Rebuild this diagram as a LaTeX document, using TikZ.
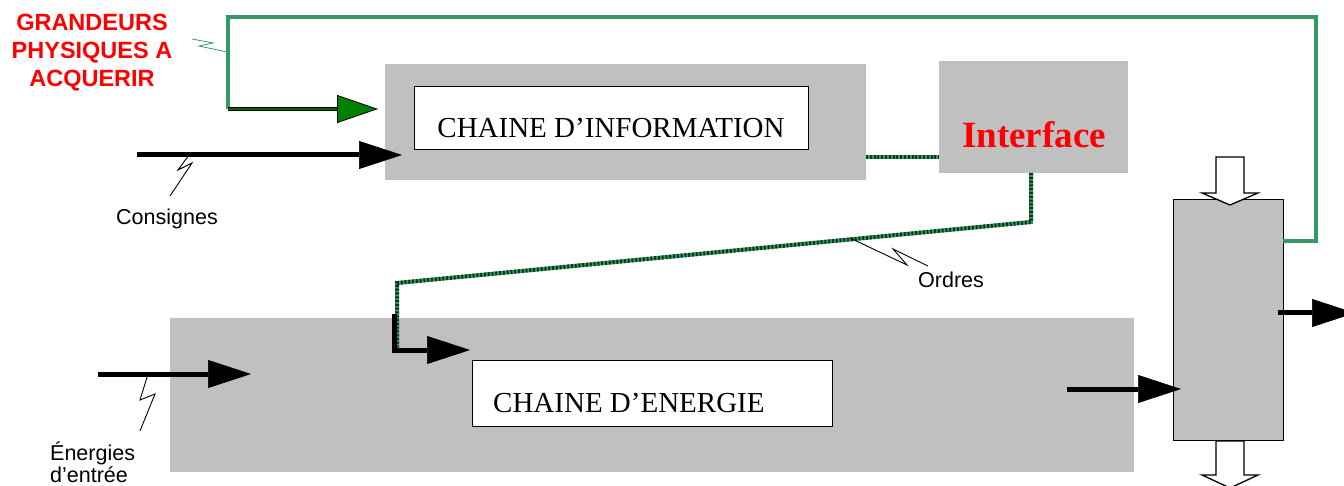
\documentclass[tikz,border=0pt]{standalone}
\usepackage{fontspec}
\setmainfont{Liberation Serif}
\newfontfamily\arialfont{Liberation Sans}
\usetikzlibrary{arrows.meta}
\definecolor{boxgray}{HTML}{C0C0C0}
\definecolor{wiregreen}{HTML}{339966}
\definecolor{arrowgreen}{HTML}{008000}
\definecolor{shaftgreen}{HTML}{006600}
\definecolor{dotdark}{HTML}{0A3A1A}
\begin{document}
\begin{tikzpicture}[x=1pt,y=-1pt,
  gbox/.style={fill=boxgray, draw=none, inner sep=0, anchor=north west},
  wbox/.style={fill=white, draw=black, line width=1.3pt, inner sep=0, anchor=north west},
  flow/.style={line width=5pt, -{Triangle[length=43pt,width=28pt,line width=0.5pt]}},
  bolt/.style={line width=0.9pt, line join=miter},
  ordre/.style={line width=4pt, draw=wiregreen,
    postaction={draw=dotdark, line width=4pt, dash pattern=on 2pt off 1.8pt}},
  feedback/.style={line width=3.2pt, draw=wiregreen},
  sans/.style={font=\arialfont\fontsize{21.5}{24}\selectfont, inner sep=0},
  redsans/.style={font=\arialfont\bfseries\fontsize{23.5}{28}\selectfont, text=red, inner sep=0, anchor=base},
  chain/.style={font=\fontsize{29}{34}\selectfont, inner sep=0},
  hollow/.style={fill=white, draw=black, line width=1.3pt}
]
\useasboundingbox (0,0) rectangle (1344,486);

% ---- blocks ----
\node[gbox, minimum width=481pt, minimum height=116pt] (info) at (385,64) {};
\node[wbox, minimum width=394pt, minimum height=63pt] (infobox) at (414,86) {};
\node[chain, anchor=base] (infotxt) at (611,138) {CHAINE D’INFORMATION};

\node[gbox, minimum width=189pt, minimum height=112pt] (iface) at (939,61) {};
\node[font=\bfseries\fontsize{37}{40}\selectfont, text=red, inner sep=0, anchor=base] (ifacetxt) at (1034,148) {Interface};

\node[gbox, minimum width=964pt, minimum height=154pt] (energy) at (170,318) {};
\node[wbox, minimum width=360pt, minimum height=66pt] (enbox) at (472,360) {};
\node[chain, anchor=base west] (entxt) at (493,412) {CHAINE D’ENERGIE};

\node[gbox, draw=black, line width=1.3pt, minimum width=110pt, minimum height=241pt] (act) at (1173,199) {};

% ---- labels ----
\node[redsans] (g1) at (92,31) {GRANDEURS};
\node[redsans] (g2) at (92,59) {PHYSIQUES A};
\node[redsans] (g3) at (92,87) {ACQUERIR};
\node[sans, anchor=base west] (cons) at (116,225) {Consignes};
\node[sans, anchor=base west] (ord) at (918,288) {Ordres};
\node[sans, anchor=base west] (en1) at (50,460) {Énergies};
\node[sans, anchor=base west] (en2) at (50,482) {d’entrée};

% ---- connection points ----
\coordinate (consA) at (137,155);  \coordinate (consB) at (402,155);
\coordinate (enA) at (98,374);     \coordinate (enB) at (251,374);
\coordinate (actA) at (1067,389);  \coordinate (actB) at (1181,389);
\coordinate (outA) at (1278,313);  \coordinate (outB) at (1355,313);
\coordinate (ordA) at (394,314);   \coordinate (ordC) at (394,350);  \coordinate (ordB) at (470,350);
\coordinate (infoR) at (866,157);  \coordinate (ifaceL) at (939,157);
\coordinate (ifaceB) at (1031,173); \coordinate (bendA) at (1031,222);
\coordinate (bendB) at (397,283);  \coordinate (dotEnd) at (397,352);
\coordinate (fbA) at (1283,241);   \coordinate (fbB) at (1316,241);
\coordinate (fbC) at (1316,17);    \coordinate (fbD) at (228,17);
\coordinate (fbE) at (228,109);    \coordinate (fbF) at (337,109);   \coordinate (fbG) at (378,109);

% ---- information links (Ordres) ----
\draw[ordre] (infoR) -- (ifaceL);
\draw[ordre] (ifaceB) -- (bendA) -- (bendB) -- (dotEnd);

% ---- energy / signal flows ----
\draw[flow] (consA) -- (consB);
\draw[flow] (enA) -- (enB);
\draw[flow] (actA) -- (actB);
\draw[flow] (outA) -- (outB);
\draw[flow, line join=miter] (ordA) -- (ordC) -- (ordB);

% ---- feedback of the physical quantities ----
\draw[feedback, line join=miter] (fbA) -- (fbB) -- (fbC) -- (fbD) -- (fbE);
\draw[line width=4.6pt, black] (fbE) -- (fbF);
\draw[line width=2.2pt, shaftgreen] (fbE) -- (fbF);
\draw[line width=0.8pt, black, -{Triangle[length=41pt,width=28pt,line width=0.8pt,fill=arrowgreen]}] (fbF) -- (fbG);

% ---- hollow arrows above and below the actuator ----
\draw[hollow] (1216,157) -- (1244,157) -- (1244,193) -- (1258,193) -- (1230,205)
  -- (1202,193) -- (1216,193) -- cycle;
\draw[hollow] (1216,441) -- (1244,441) -- (1244,475) -- (1258,475) -- (1230,488)
  -- (1202,475) -- (1216,475) -- cycle;

% ---- lightning leaders ----
\draw[bolt] (170,196) -- (192,163) -- (178,170) -- (189,155);
\draw[bolt] (140,431) -- (155,394) -- (140,400) -- (148,374);
\draw[bolt] (850,238) -- (907,265) -- (893,249) -- (928,266);
\draw[bolt, wiregreen, line width=0.8pt] (192,39) -- (213,43) -- (199,46) -- (227,52);
\end{tikzpicture}
\end{document}
